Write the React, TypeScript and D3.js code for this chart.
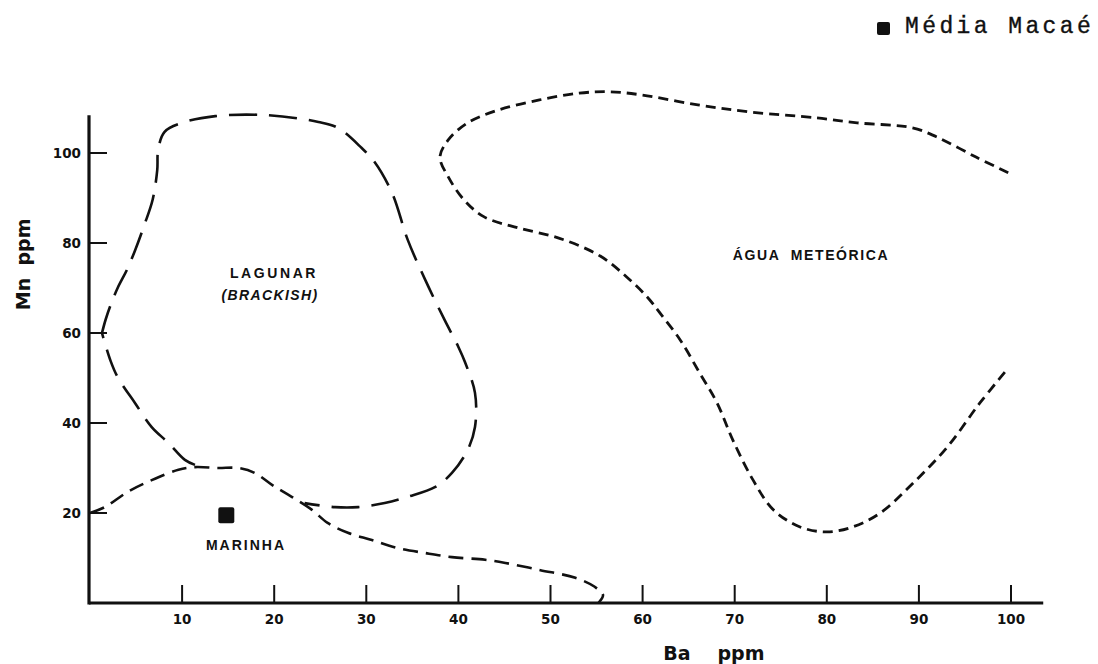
import React from "react";
import * as d3 from "d3";

// Axis ticks (ppm)
const xTicks = [10, 20, 30, 40, 50, 60, 70, 80, 90, 100];
const yTicks = [20, 40, 60, 80, 100];

// Field boundaries, [Ba ppm, Mn ppm]
// Lower arm of the lagoonal field: from the marine boundary up to the Mn axis at 60 ppm
const lagunarLowerArm: [number, number][] = [
  [11.4, 30.7], [10.3, 31.8], [8.5, 35.6], [6.7, 39.1], [4.9, 44.4], [3.0, 50.2],
  [2.2, 54.0], [1.3, 60.0],
];
// Rest of the lagoonal field: up, across the top and back down to the marine boundary
const lagunarUpperArm: [number, number][] = [
  [1.3, 60.0], [1.7, 63.0], [2.2, 66.0], [3.0, 70.0], [4.0, 74.0], [4.9, 78.4],
  [5.9, 84.0], [6.8, 89.6], [7.3, 96.2], [7.4, 100.7], [8.1, 104.7], [10.0, 106.7],
  [13.6, 108.2], [19.3, 108.4], [24.8, 106.9], [26.9, 105.6], [29.5, 101.1],
  [30.9, 98.0], [32.8, 91.1], [34.5, 80.7], [36.4, 71.8], [38.5, 62.9], [40.0, 56.9],
  [40.7, 53.6], [41.8, 46.7], [41.8, 39.1], [41.0, 34.0], [39.3, 28.9], [37.5, 25.8],
  [34.5, 23.6], [32.0, 22.2], [29.1, 21.3], [26.6, 21.3], [23.3, 22.2],
];

const marinhaBoundary: [number, number][] = [
  [0, 20], [1.6, 21.3], [4.1, 24.7], [6.7, 27.3], [9.6, 29.6], [11.4, 30.2],
  [13.9, 30.0], [16.1, 30.0], [17.9, 28.9], [19.8, 26.2], [21.9, 23.6], [24.1, 20.7],
  [25.8, 17.8], [28.0, 15.6], [30.6, 14.0], [33.4, 12.2], [36.4, 11.1], [39.3, 10.2],
  [42.9, 9.6], [45.1, 8.9], [48.9, 7.3], [52.7, 5.6], [54.8, 3.6], [55.7, 1.8], [55.2, 0],
];

const meteoricaBoundary: [number, number][] = [
  [99.7, 95.6], [96.2, 99.1], [91.9, 103.6], [89.3, 105.6], [83.3, 106.7],
  [78.9, 107.8], [71.7, 109.1], [66.0, 110.7], [59.9, 112.9], [56.5, 113.6],
  [53.1, 113.3], [48.8, 111.8], [44.4, 109.6], [41.0, 106.7], [38.9, 102.9],
  [38.0, 99.1], [38.9, 94.7], [40.6, 89.6], [42.8, 85.8], [46.6, 83.3], [50.9, 81.1],
  [55.4, 77.1], [58.3, 72.4], [60.5, 68.0], [61.9, 64.4], [64.1, 58.4], [66.2, 51.1],
  [68.1, 44.4], [69.8, 36.2], [72.0, 27.3], [74.2, 20.7], [77.1, 16.9], [80.0, 15.8],
  [82.8, 16.9], [85.8, 20.0], [89.4, 26.7], [93.1, 34.7], [96.6, 44.4], [99.7, 52.2],
];

// Mean composition of the Macaé samples
const mediaMacae: [number, number] = [14.8, 19.5];

const W = 1098;
const H = 664;

export default function App() {
  const x = d3.scaleLinear().domain([0, 100]).range([90, 1011]);
  const y = d3.scaleLinear().domain([0, 100]).range([603, 153]);

  const line = d3
    .line<[number, number]>()
    .x((d) => x(d[0]))
    .y((d) => y(d[1]))
    .curve(d3.curveCatmullRom.alpha(0.5));

  const xAxisEnd = x(103.5);
  const yAxisTop = y(108.4);
  const tickFont = "'DejaVu Sans', sans-serif";
  const labelFont = "'Liberation Sans', Arial, sans-serif";
  const ink = "#111";

  return (
    <svg
      width={W}
      height={H}
      viewBox={`0 0 ${W} ${H}`}
      style={{ position: "absolute", left: 0, top: 0, background: "#fff" }}
    >
      <rect x={0} y={0} width={W} height={H} fill="#fff" />

      {/* legend */}
      <rect x={877} y={22} width={13} height={13} rx={2} fill={ink} />
      <text
        x={905}
        y={33}
        fontFamily="'Liberation Mono', 'DejaVu Sans Mono', monospace"
        fontSize={23}
        letterSpacing={3.4}
        fill={ink}
        stroke={ink}
        strokeWidth={0.35}
      >
        Média Macaé
      </text>

      {/* axes */}
      <line x1={x(0) - 1} y1={y(0)} x2={xAxisEnd} y2={y(0)} stroke={ink} strokeWidth={3.2} />
      <line x1={x(0) - 1} y1={y(0) + 1.5} x2={x(0) - 1} y2={yAxisTop} stroke={ink} strokeWidth={3.2} />

      {xTicks.map((t) => (
        <g key={`xt${t}`}>
          <line x1={x(t)} y1={y(0)} x2={x(t)} y2={y(0) - 18} stroke={ink} strokeWidth={2} />
          <text
            x={x(t)}
            y={624}
            textAnchor="middle"
            fontFamily={tickFont}
            fontWeight="bold"
            fontSize={13.5}
            fill={ink}
          >
            {t}
          </text>
        </g>
      ))}
      {yTicks.map((t) => (
        <g key={`yt${t}`}>
          <line x1={x(0)} y1={y(t)} x2={x(0) + 17} y2={y(t)} stroke={ink} strokeWidth={2} />
          <text
            x={81}
            y={y(t) + 5}
            textAnchor="end"
            fontFamily={tickFont}
            fontWeight="bold"
            fontSize={13.5}
            fill={ink}
          >
            {t}
          </text>
        </g>
      ))}

      {/* axis titles */}
      <g fontFamily={tickFont} fontWeight="bold" fontSize={19} fill={ink}>
        <text x={677} y={660} textAnchor="middle">Ba</text>
        <text x={741} y={660} textAnchor="middle">ppm</text>
        <g transform="translate(30, 272) rotate(-90)">
          <text x={-22} y={0} textAnchor="middle">Mn</text>
          <text x={30} y={0} textAnchor="middle">ppm</text>
        </g>
      </g>

      {/* field boundaries */}
      <path
        d={line(lagunarLowerArm) || ""}
        fill="none"
        stroke={ink}
        strokeWidth={2.6}
        strokeDasharray="28 12"
      />
      <path
        d={line(lagunarUpperArm) || ""}
        fill="none"
        stroke={ink}
        strokeWidth={2.6}
        strokeDasharray="28 12"
      />
      <path
        d={line(marinhaBoundary) || ""}
        fill="none"
        stroke={ink}
        strokeWidth={2.6}
        strokeDasharray="15 8"
      />
      <path
        d={line(meteoricaBoundary) || ""}
        fill="none"
        stroke={ink}
        strokeWidth={2.8}
        strokeDasharray="10 6"
      />

      {/* field labels */}
      <g fontFamily={labelFont} fontWeight="bold" fontSize={14} fill={ink}>
        <text x={274} y={278} textAnchor="middle" letterSpacing={2.6}>
          LAGUNAR
        </text>
        <text x={270} y={300} textAnchor="middle" fontStyle="italic" letterSpacing={1.4}>
          (BRACKISH)
        </text>
        <text x={246} y={550} textAnchor="middle" letterSpacing={2}>
          MARINHA
        </text>
        <text x={811} y={260} textAnchor="middle" letterSpacing={1.6} xmlSpace="preserve">
          {"ÁGUA  METEÓRICA"}
        </text>
      </g>

      {/* Macaé mean point */}
      <rect
        x={x(mediaMacae[0]) - 8}
        y={y(mediaMacae[1]) - 8}
        width={16}
        height={16}
        rx={2}
        fill={ink}
      />
    </svg>
  );
}
